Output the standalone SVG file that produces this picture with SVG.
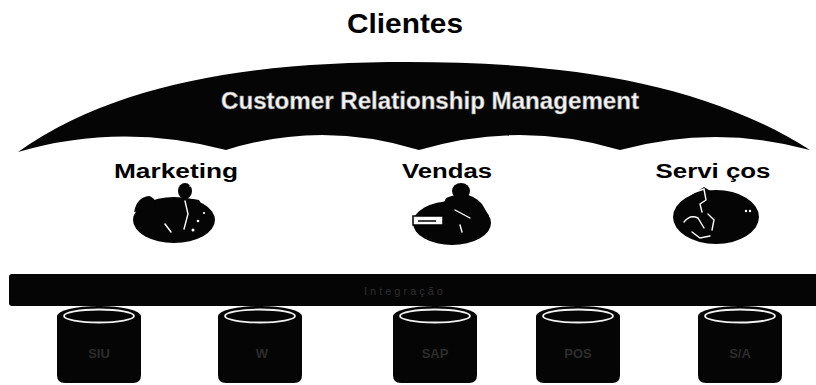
<svg xmlns="http://www.w3.org/2000/svg" width="816" height="385" viewBox="0 0 816 385">
  <style>
    .lbl { font-family: "Liberation Sans", Arial, sans-serif; font-weight: bold; fill: #000; text-anchor: middle; }
    .ink { fill: #050505; }
    .hi { fill: none; stroke: #fff; stroke-width: 1.4; stroke-linecap: round; }
    .dbtxt { font-family: "Liberation Sans", Arial, sans-serif; font-weight: bold; font-size: 13px; fill: #2c2c2c; text-anchor: middle; }
    .rim { fill: none; stroke: #f2f2f2; stroke-width: 1.8; }
  </style>
  <defs>
    <!-- storage cylinder, drawn around its own centre line -->
    <g id="cyl">
      <path class="ink" d="M-42 316 A42 10 0 0 1 42 316 L42 375 Q42 383 34 383 L-34 383 Q-42 383 -42 375 Z"/>
      <ellipse class="rim" cx="0" cy="316" rx="35" ry="6.5"/>
    </g>
  </defs>

  <rect width="816" height="385" fill="#fff"/>

  <g id="title">
    <text class="lbl" x="405" y="33" font-size="28" textLength="116" lengthAdjust="spacingAndGlyphs">Clientes</text>
  </g>

  <!-- umbrella canopy with scalloped lower edge -->
  <g id="crm">
    <path class="ink" d="M18 152 C120 80 260 62 408 62 C556 62 700 80 810 150 Q716 124 620 150 Q520 120 419 150 Q322 120 226 150 Q120 122 18 152 Z"/>
    <text x="430" y="109" font-family="'Liberation Sans', Arial, sans-serif" font-weight="bold" font-size="24" fill="#f4f4f4" stroke="#8a8a8a" stroke-width="0.5" text-anchor="middle" textLength="418" lengthAdjust="spacingAndGlyphs">Customer Relationship Management</text>
  </g>

  <g id="marketing">
    <text class="lbl" x="176" y="178" font-size="20" textLength="124" lengthAdjust="spacingAndGlyphs">Marketing</text>
    <ellipse class="ink" cx="174" cy="220" rx="41" ry="23"/>
    <ellipse class="ink" cx="185" cy="191" rx="7" ry="8"/>
    <path class="ink" d="M172 202 Q185 196 199 200 L207 214 L166 214 Z"/>
    <path class="ink" d="M134 212 Q137 197 149 196 Q158 199 154 208 Z"/>
    <path class="hi" d="M185 201 L188 214 L184 229"/>
    <path class="hi" d="M190 186 L193 183"/>
    <circle cx="198" cy="221" r="1.3" fill="#fff"/>
    <circle cx="204" cy="213" r="1.1" fill="#fff"/>
    <circle cx="193" cy="230" r="1.5" fill="#fff"/>
    <path class="hi" d="M165 224 L171 232"/>
  </g>

  <g id="vendas">
    <text class="lbl" x="447" y="178" font-size="20" textLength="90" lengthAdjust="spacingAndGlyphs">Vendas</text>
    <ellipse class="ink" cx="452" cy="223" rx="39" ry="22"/>
    <ellipse class="ink" cx="461" cy="191" rx="9" ry="8"/>
    <path class="ink" d="M446 198 Q468 188 482 204 L489 216 L438 216 Z"/>
    <rect x="413" y="216" width="30" height="9" fill="#fff" stroke="#000" stroke-width="1.5"/>
    <path d="M418 221 L436 221" stroke="#000" stroke-width="1.5"/>
    <path class="hi" d="M455 210 L470 218"/>
    <path class="hi" d="M460 225 L462 232"/>
  </g>

  <g id="servicos">
    <text class="lbl" x="713" y="178" font-size="20" textLength="115" lengthAdjust="spacingAndGlyphs">Servi ços</text>
    <ellipse class="ink" cx="716" cy="217" rx="43" ry="27"/>
    <path class="ink" d="M690 196 L704 187 L712 192 L708 205 Z"/>
    <path class="hi" d="M692 193 L704 189 L706 200 L700 204 L702 212"/>
    <path class="hi" d="M684 222 Q690 214 698 218 L704 228"/>
    <path class="hi" d="M692 232 L700 238 L710 236"/>
    <path class="hi" d="M708 214 L714 220 L712 230"/>
    <circle cx="746" cy="211" r="1.2" fill="#fff"/>
    <circle cx="750" cy="211" r="1.2" fill="#fff"/>
  </g>

  <!-- integration bus -->
  <g id="bus">
    <rect class="ink" x="9" y="274" width="810" height="32" rx="3"/>
    <text x="405" y="295" font-family="'Liberation Sans', Arial, sans-serif" font-size="11" fill="#2e2e2e" text-anchor="middle" letter-spacing="3">Integração</text>
  </g>

  <g id="connectors">
    <path d="M99 306 V309 M260 306 V309 M435 306 V309 M578 306 V309 M740 306 V309" stroke="#000" stroke-width="6"/>
  </g>

  <g id="db1"><use href="#cyl" x="99"/><text class="dbtxt" x="99" y="358">SIU</text></g>
  <g id="db2"><use href="#cyl" x="260"/><text class="dbtxt" x="262" y="358">W</text></g>
  <g id="db3"><use href="#cyl" x="435"/><text class="dbtxt" x="435" y="358">SAP</text></g>
  <g id="db4"><use href="#cyl" x="578"/><text class="dbtxt" x="578" y="358">POS</text></g>
  <g id="db5"><use href="#cyl" x="740"/><text class="dbtxt" x="740" y="358">S/A</text></g>
</svg>
